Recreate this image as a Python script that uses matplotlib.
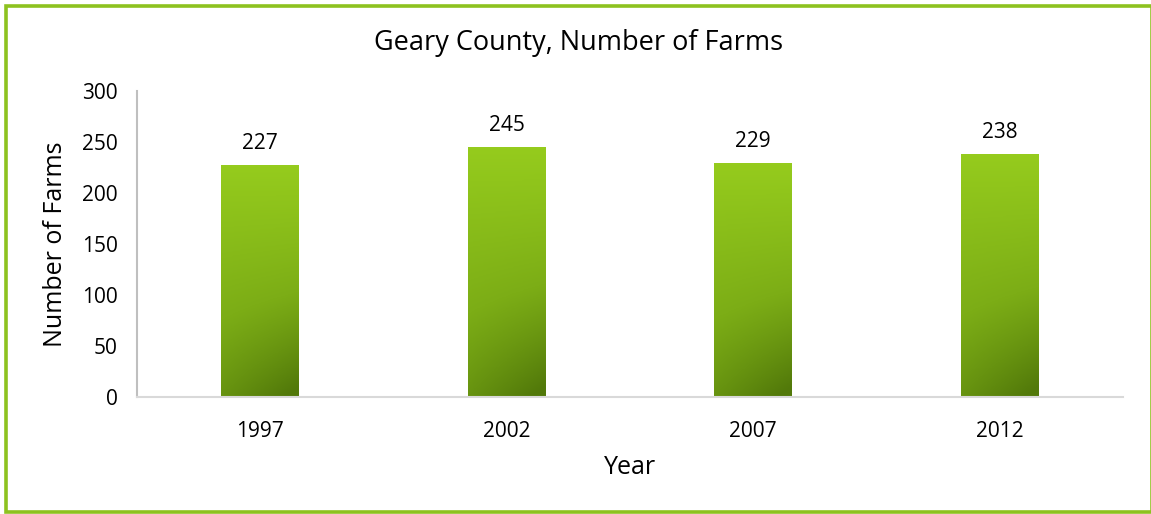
import matplotlib
matplotlib.use("Agg")
import matplotlib.pyplot as plt
import numpy as np
from matplotlib.patches import Rectangle
from matplotlib.colors import LinearSegmentedColormap

years = ["1997", "2002", "2007", "2012"]
farms = [227, 245, 229, 238]
title = "Geary County, Number of Farms"
xlabel = "Year"
ylabel = "Number of Farms"
yticks = [0, 50, 100, 150, 200, 250, 300]

plt.rcParams['font.family'] = ['Open Sans', 'DejaVu Sans']

W, H = 1151, 514
fig = plt.figure(figsize=(W/100, H/100), dpi=100)
fig.patch.set_facecolor('white')

# green border (right edge mostly cut off, as in the reference)
bl, bt, br, bb = 6.0, 5.5, 1151.5, 512.0
border = Rectangle((bl/W, (H-bb)/H), (br-bl)/W, (bb-bt)/H, transform=fig.transFigure,
                   fill=False, edgecolor='#8DC21F', linewidth=2.6, zorder=10)
fig.add_artist(border)

ax = fig.add_axes([137/W, (H-397)/H, (1123-137)/W, (397-91)/H])
x = np.arange(len(years))
bw = 0.316
bars = ax.bar(x, farms, width=bw, color='none', edgecolor='none')

cmap = LinearSegmentedColormap.from_list('g', ['#95CB1D', '#7CAD16', '#52790A'])
gy, gx = np.mgrid[0:1:200j, 0:1:60j]
grad = gy * 0.75 + gx * 0.3 * gy**2
for b in bars:
    x0, w, h = b.get_x(), b.get_width(), b.get_height()
    im = ax.imshow(grad, cmap=cmap, extent=[x0, x0 + w, 0, h], origin='upper',
                   aspect='auto', vmin=0, vmax=1.0, zorder=2)
    clip = Rectangle((x0, 0), w, h, transform=ax.transData)
    im.set_clip_path(clip)

for xi, v in zip(x, farms):
    ax.annotate(str(v), (xi, v), xytext=(0, 8), textcoords='offset points',
                ha='center', va='bottom', fontsize=15, color='black')

ax.set_xlim(-0.5, len(years) - 0.5)
ax.set_ylim(0, 300)
ax.set_xticks(x)
ax.set_xticklabels(years, fontsize=15)
ax.set_yticks(yticks)
ax.set_yticklabels([str(t) for t in yticks], fontsize=15)
ax.tick_params(axis='x', length=0, pad=17)
ax.tick_params(axis='y', length=0, pad=14)
for s in ['top', 'right']:
    ax.spines[s].set_visible(False)
ax.spines['left'].set_color('#BFBFBF')
ax.spines['left'].set_linewidth(1.5)
ax.spines['bottom'].set_color('#D9D9D9')
ax.spines['bottom'].set_linewidth(1.5)
ax.set_facecolor('none')

ax.set_xlabel(xlabel, fontsize=18, labelpad=10)
ax.set_ylabel(ylabel, fontsize=18, labelpad=10)
fig.text(579/W, (H-43)/H, title, ha='center', va='center', fontsize=19.5)

fig.savefig('out.png', dpi=100)
